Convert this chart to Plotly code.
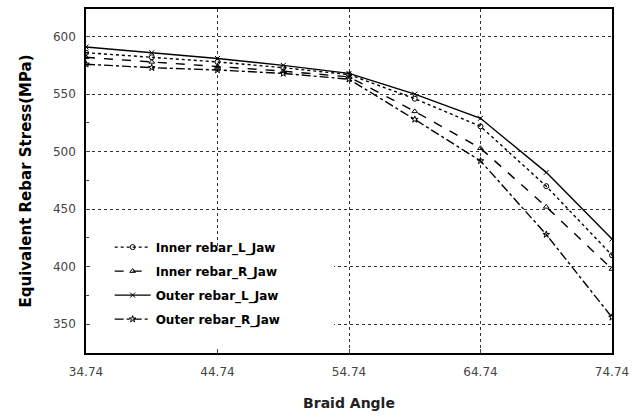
import plotly.graph_objects as go

braid_angle = [34.74, 39.74, 44.74, 49.74, 54.74, 59.74, 64.74, 69.74, 74.74]
inner_L = [586, 582, 578, 573, 567, 546, 522, 470, 410]
inner_R = [582, 578, 574, 570, 565, 535, 503, 452, 398]
outer_L = [591, 586, 581, 575, 568, 550, 529, 482, 424]
outer_R = [576, 573, 571, 568, 563, 528, 492, 428, 356]
x_ticks = [34.74, 44.74, 54.74, 64.74, 74.74]
x_labels = ["34.74", "44.74", "54.74", "64.74", "74.74"]
y_ticks = [350, 400, 450, 500, 550, 600]

series = [
    ("Inner rebar_L_Jaw", inner_L, "dot", "circle-open"),
    ("Inner rebar_R_Jaw", inner_R, "dash", "triangle-up-open"),
    ("Outer rebar_L_Jaw", outer_L, "solid", "x-thin-open"),
    ("Outer rebar_R_Jaw", outer_R, "dashdot", "star-open"),
]

fig = go.Figure()
for i, (name, vals, dash, sym) in enumerate(series):
    fig.add_trace(go.Scatter(
        x=braid_angle, y=vals, name=name, mode="lines+markers",
        legendgroup=f"g{i}",
        line=dict(color="black", width=1.4, dash=dash),
        marker=dict(symbol=sym, size=5, color="black", line=dict(width=1, color="black")),
    ))

# white patch behind legend that hides the lower-left grid lines
fig.add_shape(type="rect", xref="x", yref="y", x0=34.8, x1=53.6, y0=326, y1=418,
              fillcolor="white", line=dict(width=0), layer="between")

axis_font = dict(family="DejaVu Sans", size=12, color="#444")
fig.update_layout(
    width=643, height=420,
    margin=dict(l=86, r=31, t=7, b=67),
    paper_bgcolor="white", plot_bgcolor="white",
    showlegend=True,
    legend=dict(x=0.045, y=0.35, xanchor="left", yanchor="top",
                bgcolor="rgba(0,0,0,0)", borderwidth=0,
                font=dict(family="DejaVu Sans", size=12, color="black", weight="bold"),
                itemwidth=36, tracegroupgap=5),
    xaxis=dict(
        range=[34.74, 74.74], tickvals=x_ticks, ticktext=x_labels,
        showgrid=True, gridcolor="#333", griddash="dot", gridwidth=1,
        showline=True, linecolor="black", linewidth=1.5, mirror=True,
        ticks="inside", ticklen=4, tickfont=axis_font, zeroline=False,
        ticklabelstandoff=7,
        title=dict(text="<b>Braid Angle</b>", font=dict(family="DejaVu Sans", size=14, color="#222"), standoff=20),
    ),
    yaxis=dict(
        range=[325, 624], tickvals=y_ticks,
        showgrid=True, gridcolor="#333", griddash="dot", gridwidth=1,
        showline=True, linecolor="black", linewidth=1.5, mirror=True,
        ticks="inside", ticklen=4, tickfont=axis_font, zeroline=False,
        ticklabelstandoff=6,
        minor=dict(dtick=25, tick0=325, ticks="inside", ticklen=3, showgrid=False),
        title=dict(text="<b>Equivalent Rebar Stress(MPa)</b>", font=dict(family="DejaVu Sans", size=15, color="black"), standoff=18),
    ),
)

fig.write_html("out.html", config={"displayModeBar": False},
               post_script="document.body.style.margin='0';")
